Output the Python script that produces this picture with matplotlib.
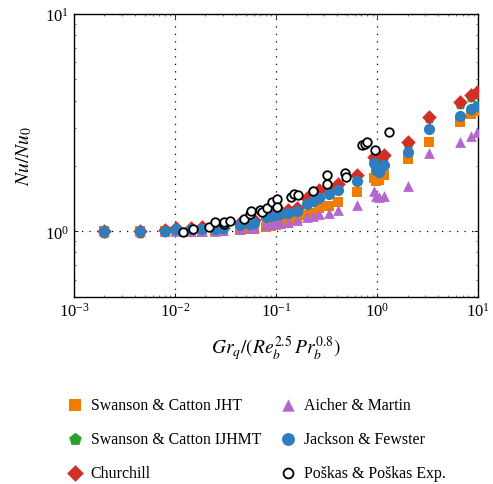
import numpy as np
import matplotlib.pyplot as plt

# 共通の横軸の値 Gr_q/(Re_b^2.5 Pr_b^0.8)
x_model = [0.002, 0.0045, 0.008, 0.0102, 0.0144, 0.0187, 0.025, 0.03, 0.044, 0.055, 0.06,
           0.08, 0.09, 0.1, 0.11, 0.13, 0.16, 0.2, 0.23, 0.265, 0.333, 0.409, 0.637,
           0.93, 0.97, 1.05, 1.16, 2.0, 3.23, 6.6, 8.5, 9.75]

swanson_jht = [1.00, 1.00, 1.00, 1.00, 0.99, 0.99, 1.00, 1.00, 1.01, 1.02, 1.03,
               1.05, 1.06, 1.07, 1.08, 1.09, 1.13, 1.19, 1.22, 1.28, 1.31, 1.36, 1.51,
               1.76, 1.70, 1.72, 1.82, 2.15, 2.59, 3.20, 3.45, 3.57]
swanson_ijhmt = [0.98, 0.98, 0.99, 1.02, 1.02, 1.03, 1.02, 1.03, 1.08, 1.11, 1.12,
                 1.20, 1.21, 1.22, 1.23, 1.24, 1.27, 1.40, 1.48, 1.53, 1.56, 1.63, 1.80,
                 2.18, 2.10, 2.20, 2.22, 2.53, 3.32, 3.86, 4.17, 4.30]
churchill = [1.00, 1.00, 1.01, 1.04, 1.04, 1.05, 1.03, 1.04, 1.09, 1.12, 1.13,
             1.21, 1.22, 1.23, 1.24, 1.25, 1.28, 1.42, 1.50, 1.55, 1.58, 1.65, 1.82,
             2.21, 2.13, 2.23, 2.25, 2.57, 3.37, 3.92, 4.23, 4.36]
aicher = [1.00, 1.00, 1.00, 1.00, 1.00, 1.00, 1.00, 1.01, 1.02, 1.04, 1.05,
          1.07, 1.08, 1.09, 1.09, 1.10, 1.13, 1.17, 1.18, 1.20, 1.22, 1.26, 1.32,
          1.53, 1.45, 1.44, 1.46, 1.61, 2.30, 2.57, 2.76, 2.87]
jackson = [1.00, 1.00, 1.00, 1.03, 1.02, 1.03, 1.03, 1.035, 1.07, 1.08, 1.09,
           1.17, 1.18, 1.19, 1.20, 1.21, 1.235, 1.33, 1.38, 1.42, 1.48, 1.55, 1.70,
           2.06, 1.92, 1.88, 2.02, 2.33, 2.96, 3.41, 3.65, 3.78]

# 実験値
x_exp = [0.0121, 0.0152, 0.0219, 0.0249, 0.0302, 0.0302, 0.0351, 0.0484, 0.0547, 0.0563,
         0.0698, 0.0727, 0.0813, 0.0918, 0.102, 0.102, 0.139, 0.150, 0.164, 0.233,
         0.321, 0.321, 0.476, 0.488, 0.715, 0.753, 0.789, 0.946, 1.31]
y_exp = [0.99, 1.02, 1.05, 1.10, 1.08, 1.10, 1.12, 1.14, 1.20, 1.24,
         1.25, 1.23, 1.28, 1.37, 1.41, 1.30, 1.44, 1.49, 1.47, 1.54,
         1.81, 1.65, 1.86, 1.77, 2.50, 2.53, 2.57, 2.37, 2.86]

plt.rcParams['font.family'] = 'Liberation Serif'
plt.rcParams['mathtext.fontset'] = 'stix'
plt.rcParams['font.size'] = 12

fig = plt.figure(figsize=(4.93, 4.85), dpi=100)
ax = fig.add_axes([0.150, 0.386, 0.820, 0.583])

ax.scatter(x_model, swanson_jht, marker='s', s=55, color='#EF7D00', lw=0,
           label='Swanson & Catton JHT', zorder=3)
ax.scatter(x_model, swanson_ijhmt, marker='p', s=70, color='#2CA02C', lw=0,
           label='Swanson & Catton IJHMT', zorder=3)
ax.scatter(x_model, churchill, marker='D', s=55, color='#D22F27', lw=0,
           label='Churchill', zorder=3)
ax.scatter(x_model, aicher, marker='^', s=60, color='#B567CF', lw=0,
           label='Aicher & Martin', zorder=3)
ax.scatter(x_model, jackson, marker='o', s=65, color='#2E7EBF', lw=0,
           label='Jackson & Fewster', zorder=3)
ax.scatter(x_exp, y_exp, marker='o', s=38, facecolors='white', edgecolors='black',
           lw=1.3, label='Poškas & Poškas Exp.', zorder=4)

ax.set_xscale('log')
ax.set_yscale('log')
ax.set_xlim(1e-3, 1e1)
ax.set_ylim(0.5, 10)
ax.set_xticks([1e-3, 1e-2, 1e-1, 1e0, 1e1])
ax.set_yticks([1e0, 1e1])
ax.tick_params(which='major', direction='in', length=3, width=0.6, top=True, right=True)
ax.tick_params(which='minor', direction='in', length=1.5, width=0.4, top=True, right=True)
ax.yaxis.set_minor_formatter(plt.NullFormatter())
ax.grid(True, which='major', color='black', linestyle=(0, (1, 5)), linewidth=0.9)
for s in ax.spines.values():
    s.set_linewidth(1.0)

ax.set_xlabel(r'$Gr_q/(Re_b^{2.5}\,Pr_b^{0.8})$', fontsize=14, labelpad=10)
ax.set_ylabel(r'$Nu/Nu_0$', fontsize=14, labelpad=8)

fig.legend(loc='upper left', bbox_to_anchor=(0.104, 0.208), ncol=2, frameon=False,
           fontsize=11.4, handletextpad=0.4, columnspacing=1.1, labelspacing=1.12,
           scatterpoints=1, handlelength=1.2, markerscale=1.15)

plt.savefig('out.png', dpi=100)
plt.close()
